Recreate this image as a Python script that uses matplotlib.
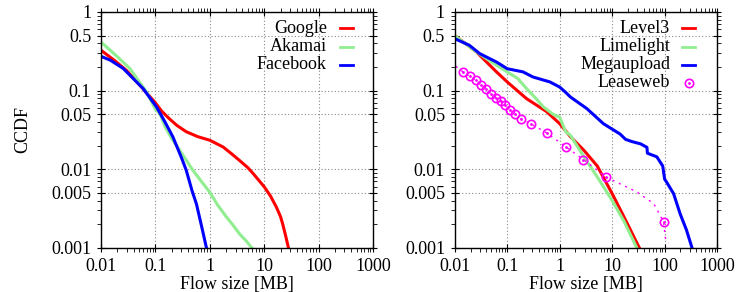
import matplotlib
matplotlib.use("Agg")
import matplotlib.pyplot as plt
from matplotlib.ticker import LogLocator, FixedLocator, NullFormatter

plt.rcParams['font.family'] = ['Liberation Serif', 'DejaVu Serif']
plt.rcParams['font.size'] = 13

# --- left panel: Google / Akamai / Facebook ---
google_x = [0.01, 0.018, 0.0296, 0.052, 0.1, 0.13, 0.18, 0.25, 0.37, 0.6, 1.0,
            1.76, 2.5, 3.5, 5, 6.3, 10, 13, 16.8, 20, 22, 25, 28]
google_y = [0.326, 0.24, 0.18, 0.117, 0.07, 0.055, 0.044, 0.036, 0.030, 0.026, 0.0234,
            0.0192, 0.0158, 0.013, 0.0105, 0.0088, 0.006, 0.0046, 0.0033, 0.0025, 0.002, 0.0014, 0.001]
akamai_x = [0.01, 0.02, 0.034, 0.069, 0.1, 0.121, 0.15, 0.2, 0.28, 0.49, 1.0, 1.4, 2.0, 2.6, 3.55, 4.7, 5.97]
akamai_y = [0.416, 0.27, 0.191, 0.096, 0.058, 0.051, 0.035, 0.0245, 0.0175, 0.0097, 0.0051, 0.0035,
            0.0025, 0.002, 0.0015, 0.00122, 0.001]
facebook_x = [0.01, 0.015, 0.0257, 0.0597, 0.105, 0.15, 0.21, 0.3, 0.37, 0.47, 0.57, 0.7, 0.87]
facebook_y = [0.273, 0.243, 0.191, 0.106, 0.062, 0.04, 0.0258, 0.0142, 0.0097, 0.0054, 0.0036, 0.00195, 0.001]

# --- right panel: Level3 / Limelight / Megaupload / Leaseweb ---
level3_x = [0.01, 0.015, 0.026, 0.0625, 0.1, 0.234, 0.565, 1.0, 1.6, 2.9, 5.2, 10, 16.7, 33]
level3_y = [0.5, 0.41, 0.31, 0.173, 0.129, 0.079, 0.054, 0.038, 0.026, 0.0174, 0.011, 0.0049, 0.0025, 0.001]
limelight_x = [0.01, 0.026, 0.0625, 0.1, 0.16, 0.234, 0.35, 0.49, 0.75, 1.0, 1.3, 1.6, 2.9, 5.2, 10, 16.7, 29.5]
limelight_y = [0.5, 0.31, 0.21, 0.173, 0.142, 0.106, 0.08, 0.062, 0.05, 0.046, 0.03, 0.027, 0.0144, 0.008,
               0.004, 0.0022, 0.001]
mega_x = [0.01, 0.019, 0.03, 0.0625, 0.1, 0.2, 0.31, 0.65, 1.0, 1.3, 1.6, 3.3, 6.8, 14.2, 18, 23.8, 35,
          46, 47, 71, 92, 100, 110, 148, 198, 260, 333]
mega_y = [0.458, 0.377, 0.295, 0.231, 0.19, 0.173, 0.149, 0.129, 0.111, 0.095, 0.083, 0.059, 0.038, 0.028,
          0.024, 0.0225, 0.021, 0.019, 0.016, 0.0144, 0.011, 0.0075, 0.0068, 0.0049, 0.0027, 0.0017, 0.001]
lease_x = [0.0105, 0.0144, 0.0194, 0.0252, 0.0314, 0.0391, 0.0487, 0.0607, 0.0746, 0.0902, 0.1124,
           0.140, 0.182, 0.279, 0.565, 1.32, 2.83, 7.57, 29.5, 62, 95.7, 103, 119]
lease_y = [0.204, 0.173, 0.152, 0.135, 0.119, 0.106, 0.0916, 0.0815, 0.0739, 0.0651, 0.0562,
           0.051, 0.044, 0.038, 0.029, 0.0192, 0.0133, 0.008, 0.00515, 0.00366, 0.00214, 0.00135, 0.00115]
lease_marks = list(range(1, 18)) + [20]

xticks = [0.01, 0.1, 1, 10, 100, 1000]
xticklabels = ['0.01', '0.1', '1', '10', '100', '1000']
yticks = [0.001, 0.005, 0.01, 0.05, 0.1, 0.5, 1]
yticklabels = ['0.001', '0.005', '0.01', '0.05', '0.1', '0.5', '1']

RED, GREEN, BLUE, MAG = '#ff0000', '#90ee90', '#0000ff', '#ff00ff'

fig = plt.figure(figsize=(7.37, 2.92), dpi=100)
ax1 = fig.add_axes([0.137, 0.151, 0.369, 0.808])
ax2 = fig.add_axes([0.617, 0.151, 0.356, 0.808])


def setup(ax):
    ax.set_xscale('log')
    ax.set_yscale('log')
    ax.set_xlim(0.01, 1000)
    ax.set_ylim(0.001, 1)
    ax.xaxis.set_major_locator(FixedLocator(xticks))
    ax.set_xticklabels(xticklabels)
    ax.yaxis.set_major_locator(FixedLocator(yticks))
    ax.set_yticklabels(yticklabels)
    ax.xaxis.set_minor_locator(LogLocator(base=10, subs=range(2, 10)))
    ax.yaxis.set_minor_locator(LogLocator(base=10, subs=range(2, 10)))
    ax.xaxis.set_minor_formatter(NullFormatter())
    ax.yaxis.set_minor_formatter(NullFormatter())
    ax.tick_params(which='major', direction='inout', length=6, width=0.8,
                   top=True, right=True, pad=4)
    ax.tick_params(which='minor', direction='out', length=3, width=0.6, top=True, right=True)
    ax.grid(True, which='major', color='#888888', linestyle=(0, (1, 2)), linewidth=0.8)
    for s in ax.spines.values():
        s.set_linewidth(1.0)
    ax.set_xlabel('Flow size [MB]', labelpad=1)


def legend_entry(ax, row, label, color, x_text, x0, x1, y_top, marker=False):
    y = y_top - row * 0.077
    ax.text(x_text, y, label, transform=ax.transAxes, ha='right', va='center')
    if marker:
        xm = (x0 + x1) / 2
        ax.plot([xm], [y], 'o', mfc='none', mec=color, ms=6, mew=1.2, transform=ax.transAxes, clip_on=False)
        ax.plot([xm], [y], '.', color=color, ms=2, transform=ax.transAxes, clip_on=False)
    else:
        ax.plot([x0, x1], [y, y], color=color, lw=2, transform=ax.transAxes, clip_on=False)


setup(ax1)
ax1.plot(google_x, google_y, color=RED, lw=2.2)
ax1.plot(akamai_x, akamai_y, color=GREEN, lw=2.2)
ax1.plot(facebook_x, facebook_y, color=BLUE, lw=2.2)
ax1.set_ylabel('CCDF', labelpad=14)
for i, (lab, c) in enumerate([('Google', RED), ('Akamai', GREEN), ('Facebook', BLUE)]):
    legend_entry(ax1, i, lab, c, 0.831, 0.879, 0.926, 0.93)

setup(ax2)
ax2.plot(level3_x, level3_y, color=RED, lw=2.2)
ax2.plot(limelight_x, limelight_y, color=GREEN, lw=2.2)
ax2.plot(mega_x, mega_y, color=BLUE, lw=2.2)
ax2.plot(lease_x, lease_y, color=MAG, lw=1.0, linestyle=(0, (1.5, 3.5)))
ax2.plot(lease_x, lease_y, 'o', markevery=lease_marks, mfc='none', mec=MAG, ms=6, mew=1.2)
ax2.plot(lease_x, lease_y, '.', markevery=lease_marks, color=MAG, ms=2)
for i, (lab, c) in enumerate([('Level3', RED), ('Limelight', GREEN), ('Megaupload', BLUE)]):
    legend_entry(ax2, i, lab, c, 0.821, 0.866, 0.916, 0.93)
legend_entry(ax2, 3, 'Leaseweb', MAG, 0.821, 0.866, 0.916, 0.93, marker=True)

fig.savefig('out.png', dpi=100)
